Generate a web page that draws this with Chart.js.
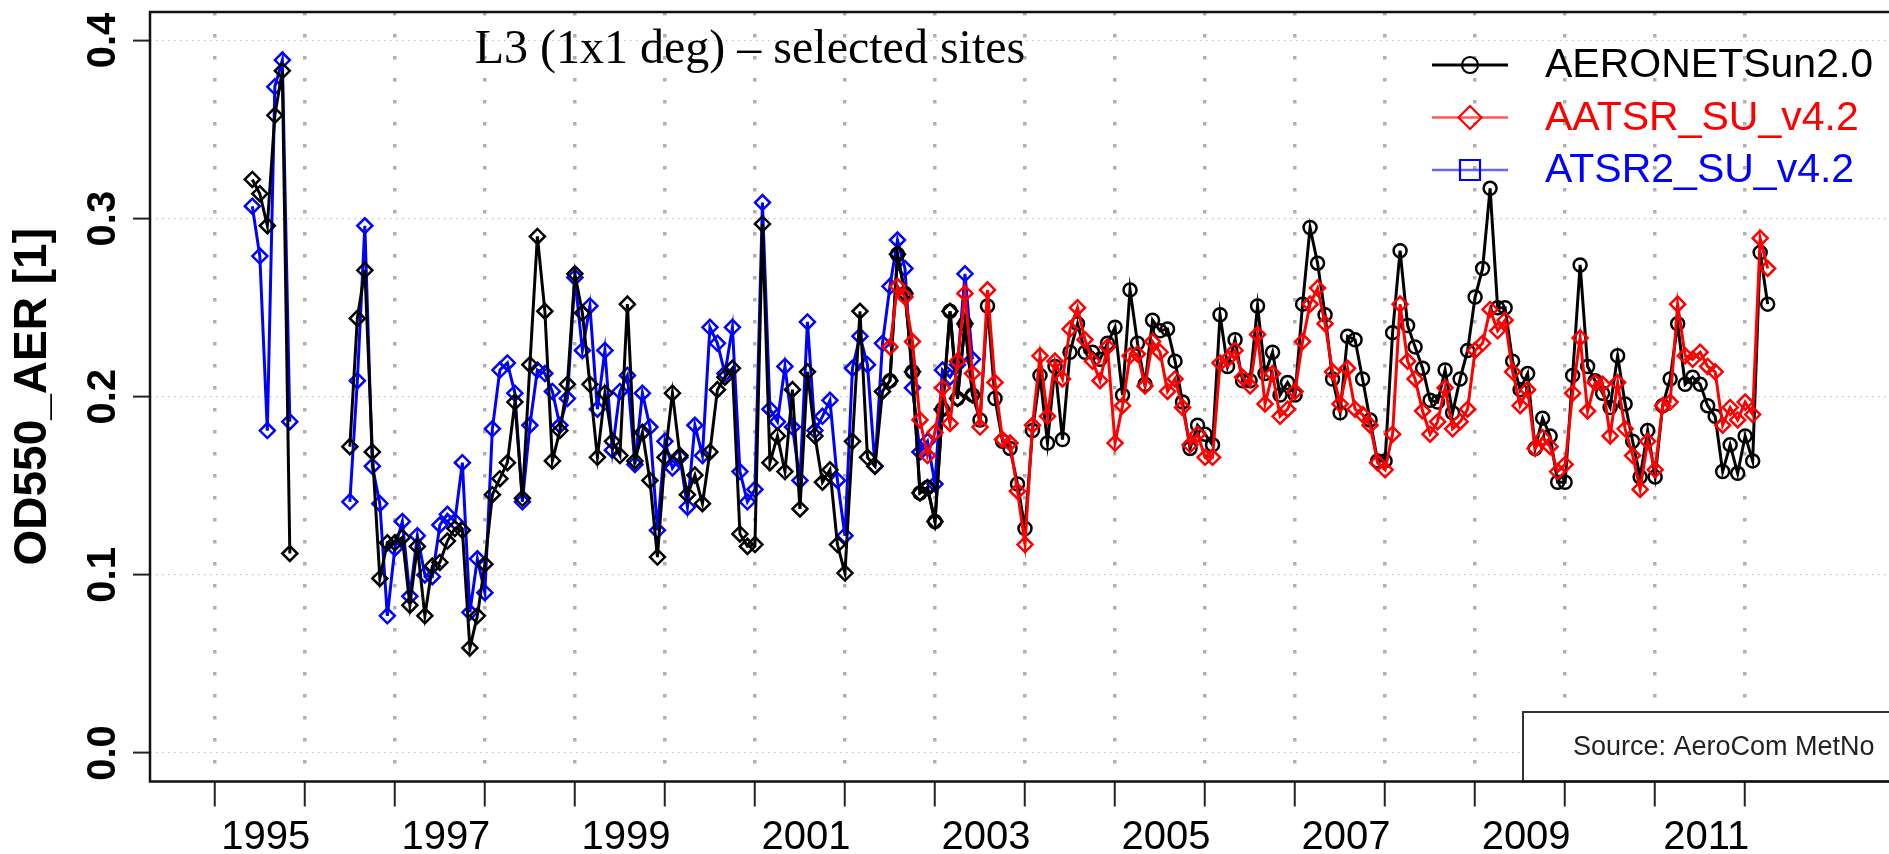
<!DOCTYPE html>
<html>
<head>
<meta charset="utf-8">
<script src="https://cdn.jsdelivr.net/npm/chart.js@4.4.0/dist/chart.umd.min.js"></script>
<style>
html,body{margin:0;padding:0;background:#fff;overflow:hidden;}
#wrap{position:relative;width:1960px;height:854px;}
canvas{display:block;}
</style>
</head>
<body>
<div id="wrap"><canvas id="c" width="1960" height="854"></canvas></div>
<script>
// ---------- data ----------
const startYear = 1994;                     // month index 0 = Jan 1994
const xTickYears = [1994,1995,1996,1997,1998,1999,2000,2001,2002,2003,2004,2005,2006,2007,2008,2009,2010,2011];
const xLabelYears = [1995,1997,1999,2001,2003,2005,2007,2009,2011];
const yTicks = [0.0,0.1,0.2,0.3,0.4];
const seriesNames = ['AERONETSun2.0','AATSR_SU_v4.2','ATSR2_SU_v4.2'];
const titleText = 'L3 (1x1 deg) \u2013 selected sites';
const sourceText = 'Source: AeroCom MetNo';
const yAxisTitle = 'OD550_AER [1]';

// ATSR2 (blue) monthly values, first value = month index 5 (Jun 1994)
const atsr2Start = 5;
const atsr2 = [
  0.307,0.279,0.181,0.374,0.389,0.186,
  null,null,null,null,null,null,null,
  0.141,0.209,0.296,0.161,0.140,0.077,0.115,0.130,0.088,0.122,0.100,0.099,
  0.128,0.134,0.130,0.163,0.079,0.109,0.090,0.182,0.215,0.219,0.202,0.141,
  0.184,0.215,0.213,0.203,0.184,0.199,0.267,0.226,0.251,0.193,0.226,0.170,
  0.203,0.212,0.162,0.202,0.183,0.125,0.175,0.160,0.166,0.138,0.184,0.167,
  0.239,0.230,0.213,0.239,0.158,0.141,0.148,0.309,0.193,0.186,0.217,0.183,
  0.153,0.242,0.181,0.189,0.198,0.153,0.122,0.216,0.234,0.218,0.161,0.230,
  0.262,0.288,0.272,0.205,0.169,0.175,0.151,0.215,0.211,0.218,0.269,0.221
];
// AERONET collocated with ATSR2 (black diamonds)
const aeronetAtsr2Start = 5;
const aeronetAtsr2 = [
  0.322,0.314,0.296,0.358,0.383,0.112,
  null,null,null,null,null,null,null,
  0.172,0.244,0.271,0.169,0.098,0.118,0.118,0.121,0.083,0.116,0.077,0.105,
  0.107,0.119,0.126,0.125,0.059,0.077,0.106,0.145,0.154,0.163,0.197,0.143,
  0.218,0.290,0.248,0.164,0.181,0.207,0.269,0.247,0.207,0.166,0.202,0.175,
  0.167,0.252,0.164,0.180,0.153,0.110,0.166,0.202,0.167,0.145,0.156,0.140,
  0.169,0.204,0.211,0.216,0.123,0.116,0.117,0.297,0.163,0.178,0.158,0.204,
  0.137,0.214,0.178,0.152,0.159,0.117,0.101,0.175,0.248,0.166,0.161,0.203,
  0.209,0.280,0.258,0.214,0.146,0.149,0.130,0.193,0.248,0.199,0.241,0.201
];
// AATSR (red) monthly values, first value = month index 90 (Jul 2001)
const aatsrStart = 90;
const aatsr = [
  0.228,0.262,0.256,0.231,0.187,0.167,0.180,0.205,0.185,0.220,0.258,0.213,
  0.183,0.260,0.208,0.176,0.174,0.147,0.117,0.184,0.223,0.189,0.220,0.210,
  0.238,0.250,0.232,0.220,0.209,0.228,0.174,0.195,0.223,0.224,0.206,0.231,
  0.225,0.203,0.210,0.194,0.173,0.179,0.166,0.166,0.219,0.221,0.226,0.211,
  0.206,0.235,0.196,0.213,0.189,0.193,0.203,0.231,0.252,0.261,0.241,0.214,
  0.196,0.216,0.193,0.190,0.184,0.163,0.159,0.179,0.252,0.220,0.210,0.192,
  0.179,0.186,0.205,0.182,0.186,0.193,0.226,0.230,0.249,0.237,0.243,0.214,
  0.195,0.204,0.171,0.177,0.172,0.158,0.162,0.202,0.233,0.192,0.208,0.207,
  0.178,0.208,0.182,0.167,0.148,0.175,0.159,0.195,0.197,0.252,0.223,0.221,
  0.225,0.217,0.214,0.184,0.194,0.187,0.197,0.190,0.289,0.272
];
// AERONET collocated with AATSR (black circles)
const aeronetAatsrStart = 90;
const aeronetAatsr = [
  0.209,0.280,0.258,0.214,0.146,0.149,0.130,0.193,0.248,0.199,0.241,0.201,
  0.187,0.251,0.199,0.175,0.171,0.151,0.126,0.181,0.212,0.174,0.217,0.176,
  0.225,0.241,0.225,0.225,0.221,0.230,0.239,0.201,0.260,0.230,0.207,0.243,
  0.237,0.238,0.220,0.197,0.171,0.184,0.179,0.173,0.246,0.217,0.232,0.209,
  0.209,0.251,0.213,0.225,0.201,0.208,0.201,0.252,0.295,0.275,0.246,0.210,
  0.191,0.234,0.232,0.210,0.187,0.164,0.164,0.236,0.282,0.240,0.228,0.216,
  0.198,0.197,0.215,0.191,0.210,0.226,0.256,0.272,0.317,0.250,0.250,0.220,
  0.204,0.213,0.171,0.188,0.178,0.152,0.152,0.212,0.274,0.217,0.209,0.202,
  0.194,0.223,0.196,0.175,0.155,0.181,0.155,0.195,0.210,0.241,0.207,0.211,
  0.207,0.195,0.189,0.158,0.173,0.157,0.178,0.164,0.281,0.252
];

// ---------- build ----------
function toPoints(start, vals){
  return vals.map((v,i)=>({x: startYear + (start+i)/12, y: v}));
}
const lineCommon = {
  borderWidth: 3, pointBorderWidth: 2.5, pointBackgroundColor: 'rgba(0,0,0,0)',
  tension: 0, spanGaps: false, pointHoverRadius: 7
};

const SANS = '"Liberation Sans", Arial, sans-serif';
const NARROW = '"Liberation Sans Narrow", "Liberation Sans", Arial, sans-serif';

const decor = {
  id: 'decor',
  afterDatasetsDraw(chart){
    const {ctx, chartArea: a, scales} = chart;
    ctx.save();
    // source box
    const bx = 1523, by = 712;
    ctx.fillStyle = '#fff';
    ctx.fillRect(bx, by, a.right + 30 - bx, a.bottom - by);
    ctx.strokeStyle = '#333'; ctx.lineWidth = 2;
    ctx.strokeRect(bx, by, a.right + 30 - bx, a.bottom - by);
    ctx.fillStyle = '#222'; ctx.font = '27px ' + SANS;
    ctx.textAlign = 'left'; ctx.textBaseline = 'middle';
    ctx.fillText(sourceText, 1573, 748);
    // frame
    ctx.strokeStyle = '#111'; ctx.lineWidth = 2.5;
    ctx.strokeRect(a.left, a.top, a.right - a.left, a.bottom - a.top);
    // y tick labels (rotated, parallel to axis)
    ctx.fillStyle = '#000'; ctx.font = 'bold 40px ' + NARROW;
    ctx.textAlign = 'center'; ctx.textBaseline = 'middle';
    yTicks.forEach(v=>{
      const y = scales.y.getPixelForValue(v);
      ctx.save(); ctx.translate(104, y); ctx.rotate(-Math.PI/2);
      ctx.fillText(v.toFixed(1), 0, 0); ctx.restore();
    });
    // title
    ctx.font = '48px "Liberation Serif", "Times New Roman", serif';
    ctx.textAlign = 'center'; ctx.textBaseline = 'alphabetic';
    ctx.fillText(titleText, 750, 63);
    // legend
    const rows = [
      {name: seriesNames[0], color:'#000', line:'#000', lw:3, mk:'circle'},
      {name: seriesNames[1], color:'#ff0000', line:'rgba(255,0,0,0.65)', lw:2.5, mk:'diamond'},
      {name: seriesNames[2], color:'#0000ff', line:'rgba(0,0,255,0.6)', lw:2.5, mk:'square'}
    ];
    rows.forEach((r,i)=>{
      const y = 65 + i*52.5;
      ctx.strokeStyle = r.line; ctx.lineWidth = r.lw;
      ctx.beginPath(); ctx.moveTo(1432, y); ctx.lineTo(1508, y); ctx.stroke();
      ctx.strokeStyle = r.color; ctx.lineWidth = 2.2;
      ctx.beginPath();
      if (r.mk==='circle') ctx.arc(1470, y, 8, 0, Math.PI*2);
      else if (r.mk==='diamond'){ ctx.moveTo(1470-11.5,y); ctx.lineTo(1470,y-11.5); ctx.lineTo(1470+11.5,y); ctx.lineTo(1470,y+11.5); ctx.closePath(); }
      else ctx.rect(1460, y-10, 20, 20);
      ctx.stroke();
      ctx.fillStyle = r.color; ctx.font = '41px ' + SANS;
      ctx.textAlign = 'left'; ctx.textBaseline = 'middle';
      ctx.fillText(r.name, 1545, y+1);
    });
    ctx.restore();
  }
};

new Chart(document.getElementById('c'), {
  type: 'line',
  data: {
    datasets: [
      Object.assign({label: seriesNames[1], data: toPoints(aatsrStart, aatsr),
        borderColor:'#ff0000', pointBorderColor:'#ff0000', pointStyle:'rectRot', pointRadius:7.5}, lineCommon),
      Object.assign({label: seriesNames[0], data: toPoints(aeronetAatsrStart, aeronetAatsr),
        borderColor:'#000', pointBorderColor:'#000', pointStyle:'circle', pointRadius:6.5}, lineCommon),
      Object.assign({label: seriesNames[0], data: toPoints(aeronetAtsr2Start, aeronetAtsr2),
        borderColor:'#000', pointBorderColor:'#000', pointStyle:'rectRot', pointRadius:7.5}, lineCommon),
      Object.assign({label: seriesNames[2], data: toPoints(atsr2Start, atsr2),
        borderColor:'#0000ff', pointBorderColor:'#0000ff', pointStyle:'rectRot', pointRadius:7.5}, lineCommon)
    ]
  },
  options: {
    responsive: false, animation: false, devicePixelRatio: 1,
    layout: {padding: {left: 0, right: 60, top: 12, bottom: 4.5}},
    plugins: {legend: {display:false}, tooltip: {enabled:false}, title:{display:false}},
    scales: {
      x: {
        type: 'linear', min: 1993.28, max: 2012.72,
        afterBuildTicks: s => { s.ticks = xTickYears.map(v=>({value:v})); },
        afterFit: s => { s.height = 68; },
        ticks: {
          autoSkip: false, maxRotation: 0, minRotation: 0, labelOffset: -39, padding: 11,
          color: '#000', font: {family: NARROW, size: 40, lineHeight: 1},
          callback: v => xLabelYears.includes(v) ? String(v) : ''
        },
        grid: {color:'#b0b0b0', lineWidth:3.5,
               tickLength:25, tickColor:'#222', tickWidth:2, tickBorderDash:[]},
        border: {display:false, dash:[3.5,18.5], dashOffset:0}
      },
      y: {
        type: 'linear', min: -0.016, max: 0.416,
        afterBuildTicks: s => { s.ticks = yTicks.map(v=>({value:v})); },
        afterFit: s => { s.width = 150; },
        ticks: {display:false},
        grid: {color:'#c4c4c4', lineWidth:1.2,
               tickLength:17, tickColor:'#222', tickWidth:2, tickBorderDash:[]},
        border: {display:false, dash:[1.5,4.5]},
        title: {display:true, text: yAxisTitle, color:'#000',
                font:{family: NARROW, weight:'bold', size:46, lineHeight:1.2},
                padding:{top:6, bottom:71.8}}
      }
    }
  },
  plugins: [decor]
});
</script>
</body>
</html>
